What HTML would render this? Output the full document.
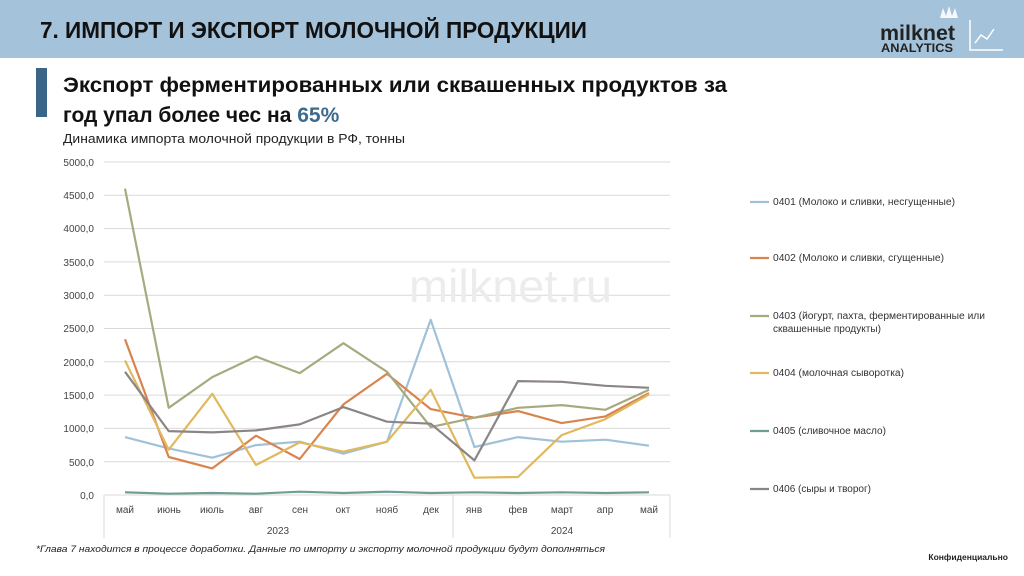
<!DOCTYPE html>
<html><head><meta charset="utf-8"><style>body{margin:0;background:#fff}svg{display:block}</style></head><body>
<svg width="1024" height="576" viewBox="0 0 1024 576" xmlns="http://www.w3.org/2000/svg" font-family="Liberation Sans, sans-serif">
<rect x="0" y="0" width="1024" height="58" fill="#a4c2da"/>
<text x="40" y="38" font-size="23" font-weight="bold" fill="#111" textLength="547" lengthAdjust="spacingAndGlyphs">7. ИМПОРТ И ЭКСПОРТ МОЛОЧНОЙ ПРОДУКЦИИ</text>
<text x="880" y="40" font-size="21" font-weight="bold" fill="#222" textLength="75" lengthAdjust="spacingAndGlyphs">milknet</text>
<text x="881" y="52" font-size="12" font-weight="bold" fill="#222" textLength="72" lengthAdjust="spacingAndGlyphs">ANALYTICS</text>
<path d="M940 18 l3 -10 l3 8 l3 -10 l3 10 l3 -8 l3 10 z" fill="#fff" opacity="0.9"/>
<path d="M970 20 V50 H1003" stroke="#fff" stroke-width="1.5" fill="none"/>
<path d="M975 43 l6 -8 l6 4 l7 -10" stroke="#fff" stroke-width="1.5" fill="none"/>
<rect x="36" y="68" width="11" height="49" fill="#3b6587"/>
<text x="63" y="92" font-size="21" font-weight="bold" fill="#111" textLength="664" lengthAdjust="spacingAndGlyphs">Экспорт ферментированных или сквашенных продуктов за</text>
<text x="63" y="122" font-size="21" font-weight="bold" fill="#111">год упал более чес на <tspan fill="#3d6b8e">65%</tspan></text>
<text x="63" y="143" font-size="13" fill="#222" textLength="342" lengthAdjust="spacingAndGlyphs">Динамика импорта молочной продукции в РФ, тонны</text>
<g stroke="#d9d9d9" stroke-width="1">
<line x1="104" x2="670" y1="162" y2="162"/><line x1="104" x2="670" y1="195.3" y2="195.3"/><line x1="104" x2="670" y1="228.6" y2="228.6"/><line x1="104" x2="670" y1="261.9" y2="261.9"/><line x1="104" x2="670" y1="295.2" y2="295.2"/><line x1="104" x2="670" y1="328.5" y2="328.5"/><line x1="104" x2="670" y1="361.8" y2="361.8"/><line x1="104" x2="670" y1="395.1" y2="395.1"/><line x1="104" x2="670" y1="428.4" y2="428.4"/><line x1="104" x2="670" y1="461.7" y2="461.7"/><line x1="104" x2="670" y1="495" y2="495"/>
<line x1="104" x2="104" y1="495" y2="538"/><line x1="453" x2="453" y1="495" y2="538"/><line x1="670" x2="670" y1="495" y2="538"/>
</g>
<g font-size="10" fill="#444" text-anchor="end">
<text x="94" y="166">5000,0</text><text x="94" y="199">4500,0</text><text x="94" y="232">4000,0</text><text x="94" y="266">3500,0</text><text x="94" y="299">3000,0</text><text x="94" y="332">2500,0</text><text x="94" y="366">2000,0</text><text x="94" y="399">1500,0</text><text x="94" y="432">1000,0</text><text x="94" y="466">500,0</text><text x="94" y="499">0,0</text>
</g>
<g font-size="10" fill="#444" text-anchor="middle">
<text x="125" y="513">май</text><text x="169" y="513">июнь</text><text x="212" y="513">июль</text><text x="256" y="513">авг</text><text x="300" y="513">сен</text><text x="343" y="513">окт</text><text x="387" y="513">нояб</text><text x="431" y="513">дек</text><text x="474" y="513">янв</text><text x="518" y="513">фев</text><text x="562" y="513">март</text><text x="605" y="513">апр</text><text x="649" y="513">май</text>
<text x="278" y="534">2023</text><text x="562" y="534">2024</text>
</g>
<text x="409" y="302" font-size="46" fill="#ececec" textLength="203" lengthAdjust="spacingAndGlyphs">milknet.ru</text>
<g id="series" fill="none" stroke-width="2.2" stroke-linejoin="round"></g>
<g font-size="10" fill="#333">
<line x1="750" x2="769" y1="202" y2="202" stroke="#9fc2d9" stroke-width="2.2"/><text x="773" y="205" textLength="182" lengthAdjust="spacingAndGlyphs">0401 (Молоко и сливки, несгущенные)</text>
<line x1="750" x2="769" y1="258" y2="258" stroke="#d9844e" stroke-width="2.2"/><text x="773" y="261" textLength="171" lengthAdjust="spacingAndGlyphs">0402 (Молоко и сливки, сгущенные)</text>
<line x1="750" x2="769" y1="316" y2="316" stroke="#a6ab7f" stroke-width="2.2"/><text x="773" y="319" textLength="212" lengthAdjust="spacingAndGlyphs">0403 (йогурт, пахта, ферментированные  или</text><text x="773" y="332" textLength="108" lengthAdjust="spacingAndGlyphs">сквашенные продукты)</text>
<line x1="750" x2="769" y1="373" y2="373" stroke="#e0b95e" stroke-width="2.2"/><text x="773" y="376" textLength="131" lengthAdjust="spacingAndGlyphs">0404 (молочная сыворотка)</text>
<line x1="750" x2="769" y1="431" y2="431" stroke="#6f9f94" stroke-width="2.2"/><text x="773" y="434" textLength="113" lengthAdjust="spacingAndGlyphs">0405 (сливочное масло)</text>
<line x1="750" x2="769" y1="489" y2="489" stroke="#8c8585" stroke-width="2.2"/><text x="773" y="492" textLength="98" lengthAdjust="spacingAndGlyphs">0406 (сыры и творог)</text>
</g>
<text x="36" y="552" font-size="9.5" font-style="italic" fill="#222" textLength="569" lengthAdjust="spacingAndGlyphs">*Глава 7 находится в процессе доработки. Данные по импорту и экспорту молочной продукции будут дополняться</text>
<text x="1008" y="560" font-size="8.5" font-weight="bold" fill="#222" text-anchor="end">Конфиденциально</text>
</svg>
<script>
var d=[["#9fc2d9",[870,700,560,750,800,620,800,2630,720,870,800,830,740]],
["#d9844e",[2340,570,400,890,540,1360,1820,1290,1160,1260,1080,1180,1530]],
["#a6ab7f",[4600,1310,1770,2080,1830,2280,1850,1020,1160,1310,1350,1280,1580]],
["#e0b95e",[2020,680,1520,450,790,650,800,1580,260,270,900,1140,1510]],
["#6f9f94",[40,20,30,20,50,30,50,30,40,30,40,30,40]],
["#8c8585",[1850,960,940,970,1060,1320,1100,1070,520,1710,1700,1640,1610]]];
var g=document.getElementById("series");
d.forEach(function(s){var p=s[1].map(function(v,i){return (125+i*43.67).toFixed(1)+","+(495-v*0.0666).toFixed(1)}).join(" ");
var e=document.createElementNS("http://www.w3.org/2000/svg","polyline");e.setAttribute("points",p);e.setAttribute("stroke",s[0]);g.appendChild(e);});
</script>
</body></html>
